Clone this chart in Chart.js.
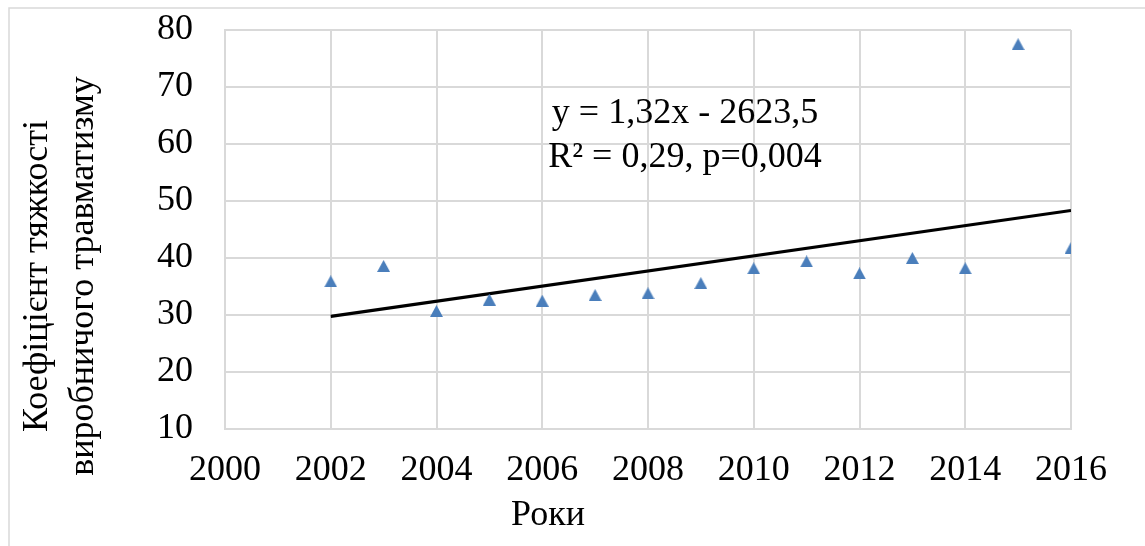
<!DOCTYPE html>
<html>
<head>
<meta charset="utf-8">
<script src="https://cdn.jsdelivr.net/npm/chart.js@4/dist/chart.umd.min.js"></script>
<style>
  html, body { margin: 0; padding: 0; background: #ffffff; }
  #wrap { width: 1145px; height: 546px; position: relative; }
</style>
</head>
<body>
<div id="wrap"><canvas id="chart" width="1145" height="546"></canvas></div>
<script>
// Injury severity coefficient by year
const years = [2002, 2003, 2004, 2005, 2006, 2007, 2008, 2009, 2010, 2011, 2012, 2013, 2014, 2015, 2016];
const severity = [35.9, 38.6, 30.7, 32.7, 32.5, 33.5, 33.8, 35.6, 38.2, 39.4, 37.3, 40.0, 38.2, 77.5, 41.75];

// Axis ticks
const xTicks = [2000, 2002, 2004, 2006, 2008, 2010, 2012, 2014, 2016];
const yTicks = [10, 20, 30, 40, 50, 60, 70, 80];

// Texts
const xTitle = 'Роки';
const yTitleLines = ['Коефіцієнт тяжкості', 'виробничого травматизму'];
const equationLines = ['y = 1,32x - 2623,5', 'R² = 0,29, p=0,004'];

const FONT = "'Liberation Serif', 'Times New Roman', serif";
const GRID = '#d9d9d9';
const MARKER = '#4a7ebb';

// Triangle marker sprite (centred on its bounding box)
function triangleSprite(w, h, color) {
  const c = document.createElement('canvas');
  c.width = w; c.height = h;
  const g = c.getContext('2d');
  g.fillStyle = color;
  g.beginPath();
  g.moveTo(w / 2, 0);
  g.lineTo(w, h);
  g.lineTo(0, h);
  g.closePath();
  g.fill();
  return c;
}
const marker = triangleSprite(13, 12, MARKER);

// Least-squares linear trend through the observations
function linearFit(xs, ys) {
  const n = xs.length;
  const mx = xs.reduce((a, b) => a + b, 0) / n;
  const my = ys.reduce((a, b) => a + b, 0) / n;
  let sxy = 0, sxx = 0;
  for (let i = 0; i < n; i++) {
    sxy += (xs[i] - mx) * (ys[i] - my);
    sxx += (xs[i] - mx) * (xs[i] - mx);
  }
  const slope = sxy / sxx;
  return { slope, intercept: my - slope * mx };
}
const fit = linearFit(years, severity);
const firstYear = years[0], lastYear = years[years.length - 1];
const trend = [
  { x: firstYear, y: fit.intercept + fit.slope * firstYear },
  { x: lastYear, y: fit.intercept + fit.slope * lastYear }
];

const decorations = {
  id: 'decorations',
  beforeDraw(chart) {
    const ctx = chart.ctx;
    ctx.save();
    ctx.fillStyle = '#ffffff';
    ctx.fillRect(0, 0, chart.width, chart.height);
    ctx.strokeStyle = GRID;
    ctx.lineWidth = 1.5;
    ctx.strokeRect(9, 8, chart.width + 10, chart.height + 10);
    ctx.restore();
  },
  afterDraw(chart) {
    const ctx = chart.ctx;
    const xs = chart.scales.x, ys = chart.scales.y;
    ctx.save();
    ctx.fillStyle = '#000000';
    ctx.font = '36px ' + FONT;
    ctx.textAlign = 'center';
    ctx.textBaseline = 'middle';

    // regression equation
    const ex = xs.getPixelForValue(2008.7);
    ctx.fillText(equationLines[0], ex, ys.getPixelForValue(65.4));
    ctx.fillText(equationLines[1], ex, ys.getPixelForValue(57.7));

    // x axis title
    ctx.fillText(xTitle, 548, 516);

    // y axis title (two rotated lines)
    const cy = 276;
    ctx.save();
    ctx.translate(38, cy);
    ctx.rotate(-Math.PI / 2);
    ctx.fillText(yTitleLines[0], 0, 0);
    ctx.restore();
    ctx.save();
    ctx.translate(84, cy);
    ctx.rotate(-Math.PI / 2);
    ctx.fillText(yTitleLines[1], 0, 0);
    ctx.restore();
    ctx.restore();
  }
};

new Chart(document.getElementById('chart'), {
  data: {
    datasets: [
      {
        type: 'scatter',
        data: years.map((y, i) => ({ x: y, y: severity[i] })),
        pointStyle: marker,
        pointRadius: 7,
        pointHoverRadius: 7,
        backgroundColor: MARKER,
        borderWidth: 0,
        order: 1
      },
      {
        type: 'line',
        data: trend,
        borderColor: '#000000',
        borderWidth: 3.2,
        pointRadius: 0,
        fill: false,
        order: 2
      }
    ]
  },
  options: {
    responsive: false,
    devicePixelRatio: 1,
    animation: false,
    layout: { padding: { top: 30, right: 74, bottom: 0, left: 0 } },
    plugins: { legend: { display: false }, tooltip: { enabled: false } },
    scales: {
      x: {
        type: 'linear',
        min: 2000,
        max: 2016,
        afterBuildTicks: s => { s.ticks = xTicks.map(v => ({ value: v })); },
        afterFit: s => { s.height = 117; s.paddingLeft = 0; s.paddingRight = 0; },
        ticks: { color: '#000000', font: { family: FONT, size: 36 }, padding: 20, maxRotation: 0, autoSkip: false, callback: v => String(v) },
        grid: { color: GRID, lineWidth: 2, drawTicks: false },
        border: { color: GRID, width: 2 }
      },
      y: {
        type: 'linear',
        min: 10,
        max: 80,
        afterBuildTicks: s => { s.ticks = yTicks.map(v => ({ value: v })); },
        afterFit: s => { s.width = 225; s.paddingTop = 0; s.paddingBottom = 0; },
        ticks: { color: '#000000', font: { family: FONT, size: 36 }, padding: 32, autoSkip: false },
        grid: { color: GRID, lineWidth: 2, drawTicks: false },
        border: { color: GRID, width: 2 }
      }
    }
  },
  plugins: [decorations]
});
</script>
</body>
</html>
